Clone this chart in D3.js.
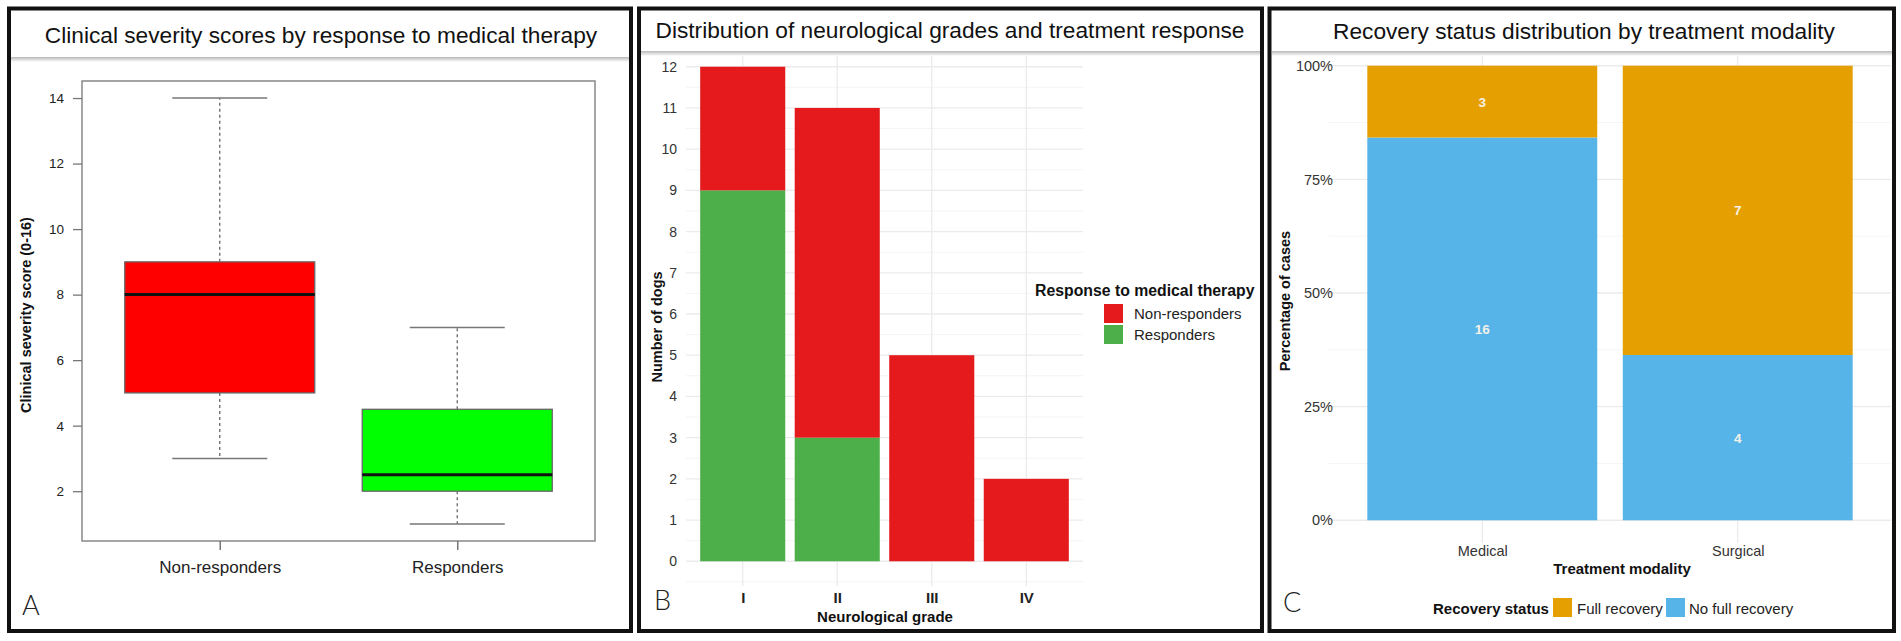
<!DOCTYPE html>
<html>
<head>
<meta charset="utf-8">
<script src="https://cdn.jsdelivr.net/npm/d3@7"></script>
<style>
  body { margin: 0; background: #fff; }
  text { font-family: "Liberation Sans", Arial, Helvetica, sans-serif; }
  .panel-letter { font-family: Lato, "Open Sans", sans-serif; font-weight: 300; font-size: 27px; fill: #222; }
</style>
</head>
<body>
<svg id="fig" width="1901" height="641"></svg>
<script>
// Panel A: boxplot of clinical severity scores
const boxGroups = ["Non-responders", "Responders"];
const boxMin = [3, 1];
const boxQ1 = [5, 2];
const boxMedian = [8, 2.5];
const boxQ3 = [9, 4.5];
const boxMax = [14, 7];
const boxColors = ["#ff0000", "#00ff00"];
const severityTicks = [2, 4, 6, 8, 10, 12, 14];

// Panel B: stacked counts by neurological grade
const grades = ["I", "II", "III", "IV"];
const responders = [9, 3, 0, 0];
const nonResponders = [3, 8, 5, 2];
const responseLabels = ["Non-responders", "Responders"];
const responseColors = ["#e41a1c", "#4daf4a"];
const countTicks = [0, 1, 2, 3, 4, 5, 6, 7, 8, 9, 10, 11, 12];

// Panel C: recovery by treatment modality (filled to 100%)
const modalities = ["Medical", "Surgical"];
const noFullRecovery = [16, 4];
const fullRecovery = [3, 7];
const recoveryLabels = ["Full recovery", "No full recovery"];
const recoveryColors = ["#e69f00", "#56b4e9"];
const pctTicks = [0, 0.25, 0.5, 0.75, 1];

const svg = d3.select("#fig");
svg.append("rect").attr("width", 1901).attr("height", 641).attr("fill", "#fff");

const defs = svg.append("defs");
const shade = defs.append("linearGradient").attr("id", "shade")
  .attr("x1", 0).attr("y1", 0).attr("x2", 0).attr("y2", 1);
shade.append("stop").attr("offset", "0%").attr("stop-color", "#b8b8b8");
shade.append("stop").attr("offset", "100%").attr("stop-color", "#ffffff");

function gridLines(g, ys, x0, x1, color, width) {
  g.selectAll(null).data(ys).enter().append("line")
    .attr("x1", x0).attr("x2", x1)
    .attr("y1", d => d).attr("y2", d => d)
    .attr("stroke", color).attr("stroke-width", width);
}

function titleBand(x0, x1, yBottom, label, cx, baseline) {
  svg.append("rect").attr("x", x0).attr("y", 10).attr("width", x1 - x0).attr("height", yBottom - 10).attr("fill", "#fff");
  svg.append("rect").attr("x", x0).attr("y", yBottom).attr("width", x1 - x0).attr("height", 5).attr("fill", "url(#shade)");
  svg.append("text").attr("x", cx).attr("y", baseline).attr("text-anchor", "middle")
    .attr("font-size", 22.7).attr("fill", "#111").text(label);
}

// ---------- Panel A ----------
const xA = d3.scaleLinear().domain([0.42, 2.58]).range([82, 595]);
const yA = d3.scaleLinear().domain([0.48, 14.52]).range([541, 81]);
const gA = svg.append("g");
const stepA = xA(2) - xA(1);

gA.append("rect").attr("x", xA.range()[0]).attr("y", yA.range()[1])
  .attr("width", xA.range()[1] - xA.range()[0]).attr("height", yA.range()[0] - yA.range()[1])
  .attr("fill", "none").attr("stroke", "#888").attr("stroke-width", 1.5);

boxGroups.forEach((name, i) => {
  const cx = xA(i + 1);
  const half = stepA * 0.4;
  // whiskers
  gA.append("line").attr("x1", cx).attr("x2", cx).attr("y1", yA(boxQ3[i])).attr("y2", yA(boxMax[i]))
    .attr("stroke", "#666").attr("stroke-width", 1.3).attr("stroke-dasharray", "3,3");
  gA.append("line").attr("x1", cx).attr("x2", cx).attr("y1", yA(boxQ1[i])).attr("y2", yA(boxMin[i]))
    .attr("stroke", "#666").attr("stroke-width", 1.3).attr("stroke-dasharray", "3,3");
  [boxMin[i], boxMax[i]].forEach(v => {
    gA.append("line").attr("x1", cx - half / 2).attr("x2", cx + half / 2).attr("y1", yA(v)).attr("y2", yA(v))
      .attr("stroke", "#777").attr("stroke-width", 1.5);
  });
  gA.append("rect").attr("x", cx - half).attr("y", yA(boxQ3[i]))
    .attr("width", half * 2).attr("height", yA(boxQ1[i]) - yA(boxQ3[i]))
    .attr("fill", boxColors[i]).attr("stroke", "#666").attr("stroke-width", 1.3);
  gA.append("line").attr("x1", cx - half).attr("x2", cx + half).attr("y1", yA(boxMedian[i])).attr("y2", yA(boxMedian[i]))
    .attr("stroke", "#111").attr("stroke-width", 3);
});

const axALeft = gA.append("g").attr("transform", `translate(${xA.range()[0]},0)`)
  .call(d3.axisLeft(yA).tickValues(severityTicks).tickSize(9).tickPadding(9));
axALeft.select(".domain").remove();
axALeft.selectAll("line").attr("stroke", "#777").attr("stroke-width", 1.3);
axALeft.selectAll("text").attr("font-size", 13.5).attr("fill", "#222").attr("font-family", "Liberation Sans, Arial, sans-serif");

const axABottom = gA.append("g").attr("transform", `translate(0,${yA.range()[0]})`)
  .call(d3.axisBottom(xA).tickValues([1, 2]).tickFormat(d => boxGroups[d - 1]).tickSize(9).tickPadding(11));
axABottom.select(".domain").remove();
axABottom.selectAll("line").attr("stroke", "#777").attr("stroke-width", 1.5);
axABottom.selectAll("text").attr("font-size", 17).attr("fill", "#222").attr("font-family", "Liberation Sans, Arial, sans-serif");

gA.append("text").attr("transform", "translate(31,315) rotate(-90)").attr("text-anchor", "middle")
  .attr("font-size", 14.5).attr("font-weight", "bold").attr("fill", "#111").text("Clinical severity score (0-16)");

// ---------- Panel B ----------
const xB = d3.scalePoint().domain(grades).range([686, 1083]).padding(0.6);
const yB = d3.scaleLinear().domain([-0.6, 12.6]).range([586, 42]);
const gB = svg.append("g");
const stepB = xB.step();

const minorB = countTicks.slice(0, -1).map(t => yB(t + 0.5)).concat([yB(-0.5), yB(12.5)]);
gridLines(gB, minorB, 686, 1083, "#f4f4f4", 1);
gridLines(gB, countTicks.map(yB), 686, 1083, "#ebebeb", 1.3);
gB.selectAll(null).data(grades).enter().append("line")
  .attr("x1", d => xB(d)).attr("x2", d => xB(d)).attr("y1", 42).attr("y2", 586)
  .attr("stroke", "#ebebeb").attr("stroke-width", 1.3);

const stackB = grades.map((g, i) => ({ grade: g, resp: responders[i], non: nonResponders[i] }));
const seriesB = d3.stack().keys(["resp", "non"])(stackB);
const colorB = { resp: responseColors[1], non: responseColors[0] };
seriesB.forEach(s => {
  gB.selectAll(null).data(s).enter().append("rect")
    .attr("x", d => xB(d.data.grade) - stepB * 0.45)
    .attr("width", stepB * 0.9)
    .attr("y", d => yB(d[1]))
    .attr("height", d => yB(d[0]) - yB(d[1]))
    .attr("fill", colorB[s.key]);
});

const axBLeft = gB.append("g").attr("transform", "translate(686,0)")
  .call(d3.axisLeft(yB).tickValues(countTicks).tickSize(0).tickPadding(9));
axBLeft.select(".domain").remove();
axBLeft.selectAll("text").attr("font-size", 14).attr("fill", "#333").attr("font-family", "Liberation Sans, Arial, sans-serif");

const axBBottom = gB.append("g").attr("transform", "translate(0,586)")
  .call(d3.axisBottom(xB).tickSize(0).tickPadding(6));
axBBottom.select(".domain").remove();
axBBottom.selectAll("text").attr("font-size", 15).attr("font-weight", "bold").attr("fill", "#222")
  .attr("font-family", "Liberation Sans, Arial, sans-serif");

gB.append("text").attr("x", 885).attr("y", 622).attr("text-anchor", "middle")
  .attr("font-size", 15).attr("font-weight", "bold").attr("fill", "#111").text("Neurological grade");
gB.append("text").attr("transform", "translate(662,327) rotate(-90)").attr("text-anchor", "middle")
  .attr("font-size", 14.5).attr("font-weight", "bold").attr("fill", "#111").text("Number of dogs");

// legend B
const legB = gB.append("g");
legB.append("text").attr("x", 1035).attr("y", 296).attr("font-size", 15.8).attr("font-weight", "bold")
  .attr("fill", "#111").text("Response to medical therapy");
responseLabels.forEach((lab, i) => {
  legB.append("rect").attr("x", 1104).attr("y", 304 + i * 21).attr("width", 19).attr("height", 19)
    .attr("fill", responseColors[i]);
  legB.append("text").attr("x", 1134).attr("y", 319 + i * 21).attr("font-size", 15).attr("fill", "#222").text(lab);
});

// ---------- Panel C ----------
const xC = d3.scalePoint().domain(modalities).range([1329, 1891]).padding(0.6);
const yC = d3.scaleLinear().domain([-0.05, 1.05]).range([543, 43]);
const gC = svg.append("g");
const stepC = xC.step();

gridLines(gC, [0.125, 0.375, 0.625, 0.875].map(yC), 1329, 1891, "#f5f5f5", 1);
gridLines(gC, pctTicks.map(yC), 1329, 1891, "#ebebeb", 1.3);
gC.selectAll(null).data(modalities).enter().append("line")
  .attr("x1", d => xC(d)).attr("x2", d => xC(d)).attr("y1", 43).attr("y2", 543)
  .attr("stroke", "#ebebeb").attr("stroke-width", 1.3);

const stackC = modalities.map((m, i) => {
  const total = noFullRecovery[i] + fullRecovery[i];
  return { mod: m, no: noFullRecovery[i] / total, full: fullRecovery[i] / total, nNo: noFullRecovery[i], nFull: fullRecovery[i] };
});
const seriesC = d3.stack().keys(["no", "full"])(stackC);
const colorC = { full: recoveryColors[0], no: recoveryColors[1] };
const countKey = { no: "nNo", full: "nFull" };
seriesC.forEach(s => {
  gC.selectAll(null).data(s).enter().append("rect")
    .attr("x", d => xC(d.data.mod) - stepC * 0.45)
    .attr("width", stepC * 0.9)
    .attr("y", d => yC(d[1]))
    .attr("height", d => yC(d[0]) - yC(d[1]))
    .attr("fill", colorC[s.key]);
  gC.selectAll(null).data(s).enter().append("text")
    .attr("x", d => xC(d.data.mod))
    .attr("y", d => yC((d[0] + d[1]) / 2) + 5)
    .attr("text-anchor", "middle").attr("font-size", 13.5).attr("font-weight", "bold")
    .attr("fill", "#f4f1e8")
    .text(d => d.data[countKey[s.key]]);
});

const axCLeft = gC.append("g").attr("transform", "translate(1329,0)")
  .call(d3.axisLeft(yC).tickValues(pctTicks).tickFormat(d3.format(".0%")).tickSize(0).tickPadding(-4));
axCLeft.select(".domain").remove();
axCLeft.selectAll("text").attr("font-size", 14.5).attr("fill", "#333").attr("font-family", "Liberation Sans, Arial, sans-serif");

const axCBottom = gC.append("g").attr("transform", "translate(0,543)")
  .call(d3.axisBottom(xC).tickSize(0).tickPadding(3));
axCBottom.select(".domain").remove();
axCBottom.selectAll("text").attr("font-size", 14.5).attr("fill", "#333").attr("font-family", "Liberation Sans, Arial, sans-serif");

gC.append("text").attr("x", 1622).attr("y", 574).attr("text-anchor", "middle")
  .attr("font-size", 15).attr("font-weight", "bold").attr("fill", "#111").text("Treatment modality");
gC.append("text").attr("transform", "translate(1290,301) rotate(-90)").attr("text-anchor", "middle")
  .attr("font-size", 14.5).attr("font-weight", "bold").attr("fill", "#111").text("Percentage of cases");

// legend C
const legC = gC.append("g");
legC.append("text").attr("x", 1433).attr("y", 614).attr("font-size", 15).attr("font-weight", "bold")
  .attr("fill", "#111").text("Recovery status");
legC.append("rect").attr("x", 1553).attr("y", 598).attr("width", 19).attr("height", 19).attr("fill", recoveryColors[0]);
legC.append("text").attr("x", 1577).attr("y", 614).attr("font-size", 15).attr("fill", "#222").text(recoveryLabels[0]);
legC.append("rect").attr("x", 1666).attr("y", 598).attr("width", 19).attr("height", 19).attr("fill", recoveryColors[1]);
legC.append("text").attr("x", 1689).attr("y", 614).attr("font-size", 15).attr("fill", "#222").text(recoveryLabels[1]);

// ---------- titles, letters, borders ----------
titleBand(11, 629, 57, "Clinical severity scores by response to medical therapy", 321, 43);
titleBand(641, 1260, 51, "Distribution of neurological grades and treatment response", 950, 38);
titleBand(1272, 1893, 51, "Recovery status distribution by treatment modality", 1584, 39);

svg.append("text").attr("class", "panel-letter").attr("x", 22).attr("y", 615).text("A");
svg.append("text").attr("class", "panel-letter").attr("x", 654).attr("y", 610).text("B");
svg.append("text").attr("class", "panel-letter").attr("x", 1283).attr("y", 612).text("C");

[[9, 622], [639, 623], [1269.5, 624.5]].forEach(([x, w]) => {
  svg.append("rect").attr("x", x).attr("y", 8.5).attr("width", w).attr("height", 622.5)
    .attr("fill", "none").attr("stroke", "#111").attr("stroke-width", 4);
});
</script>
</body>
</html>
